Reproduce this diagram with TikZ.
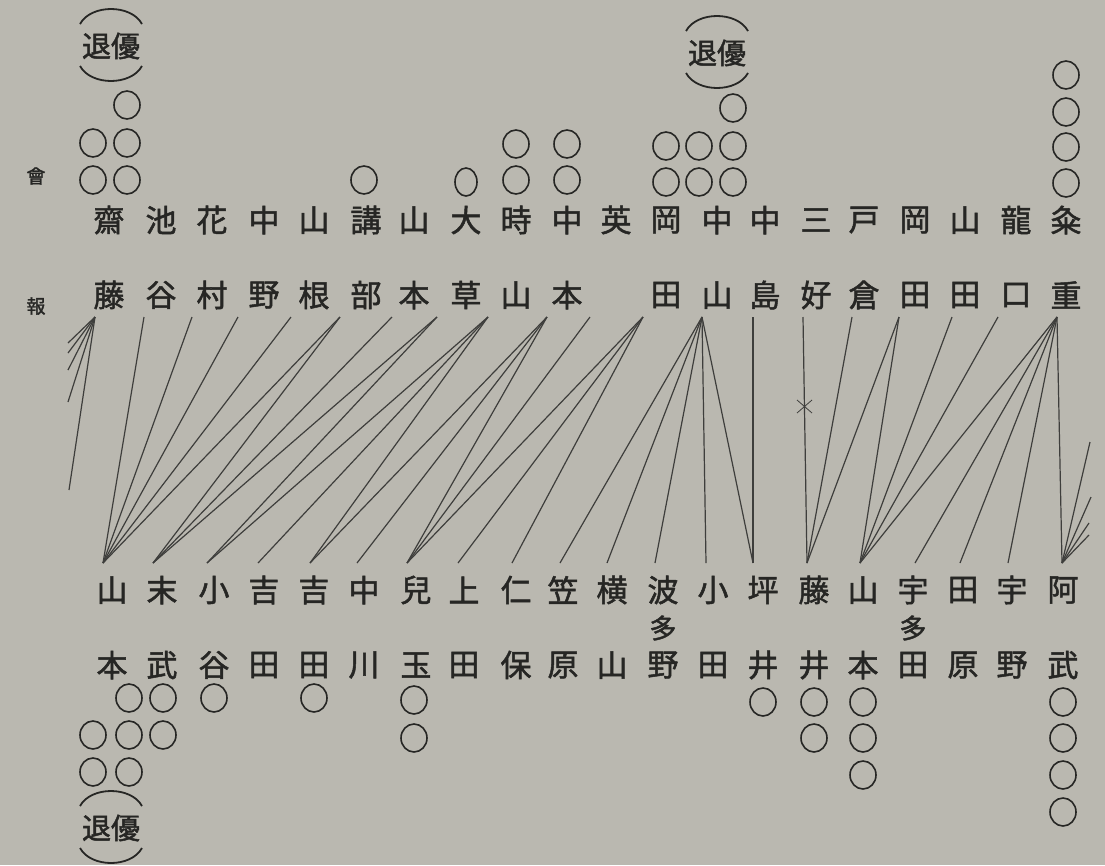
\documentclass[tikz,border=0pt]{standalone}
\usepackage{fontspec}
\newfontfamily\jp[FakeBold=1.6]{Noto Sans CJK JP}
\usetikzlibrary{shapes.geometric,calc}
\definecolor{paper}{RGB}{186,184,176}
\definecolor{ink}{RGB}{38,38,36}
\definecolor{lnc}{RGB}{62,62,60}
\newcommand{\yutaimark}[2]{%
  \node[yt] (#1) at (#2) {退優};
  \draw[arcst] ($(#1.center)+(-31,-22)$) .. controls ($(#1.center)+(-20,-42)$) and ($(#1.center)+(20,-42)$) .. ($(#1.center)+(31,-22)$);
  \draw[arcst] ($(#1.center)+(-31,20)$) .. controls ($(#1.center)+(-20,40)$) and ($(#1.center)+(20,40)$) .. ($(#1.center)+(31,20)$);
}
\begin{document}
\begin{tikzpicture}[x=1pt,y=-1pt,
  nm/.style={font=\jp\fontsize{31}{31}\selectfont, text=ink, inner sep=0pt},
  nmsmall/.style={font=\jp\fontsize{27}{27}\selectfont, text=ink, inner sep=0pt},
  sm/.style={font=\jp\fontsize{19}{19}\selectfont, text=ink, inner sep=0pt},
  yt/.style={font=\jp\fontsize{29}{29}\selectfont, text=ink, inner sep=0pt},
  win/.style={ellipse, draw=ink, line width=1.6pt, minimum width=26pt, minimum height=28pt, inner sep=0pt},
  ln/.style={draw=lnc, line width=1.2pt},
  arcst/.style={draw=ink, line width=1.8pt}]
\clip (0,0) rectangle (1105,865);
\fill[paper] (0,0) rectangle (1105,865);

% side labels
\node[sm] (kai) at (36,176) {會};
\node[sm] (hou) at (36,306) {報};

% top names
\foreach \x/\a/\b [count=\i] in {109/齋/藤,161/池/谷,212/花/村,264/中/野,314/山/根,366/講/部,414/山/本,466/大/草,516/時/山,567/中/本,616/英/{},666/岡/田,717/中/山,765/中/島,816/三/好,864/戸/倉,915/岡/田,965/山/田,1016/龍/口,1066/粂/重}{
  \node[nm] (ta\i) at (\x,220) {\a};
  \node[nm] (tb\i) at (\x,295) {\b};
}

% bottom names
\foreach \x/\a/\b [count=\i] in {112/山/本,162/末/武,214/小/谷,264/吉/田,314/吉/田,364/中/川,416/兒/玉,464/上/田,516/仁/保,563/笠/原,612/横/山,663/波/野,713/小/田,763/坪/井,814/藤/井,863/山/本,913/宇/田,963/田/原,1012/宇/野,1063/阿/武}{
  \node[nm] (ba\i) at (\x,590) {\a};
  \node[nm] (bb\i) at (\x,665) {\b};
}
\node[nmsmall] (bm12) at (663,628) {多};
\node[nmsmall] (bm17) at (913,628) {多};

% connector ends
\foreach \x [count=\i] in {95,144,192,238,291,340,392,437,488,547,590,643,702,753,803,852,899,952,998,1057}
  \coordinate (tt\i) at (\x,317);
\foreach \x [count=\i] in {103,153,207,258,310,357,407,458,512,560,607,655,706,753,807,860,915,960,1008,1062}
  \coordinate (bt\i) at (\x,563);
\coordinate (l1) at (68,343);
\coordinate (l2) at (68,353);
\coordinate (l3) at (68,370);
\coordinate (l4) at (68,402);
\coordinate (l5) at (69,490);
\coordinate (r1) at (1090,442);
\coordinate (r2) at (1091,497);
\coordinate (r3) at (1089,523);
\coordinate (r4) at (1089,535);

% connectors
\foreach \t/\b in {2/1,3/1,4/1,5/1,6/1,6/2,7/2,8/2,8/3,9/3,9/4,9/5,10/5,10/6,10/7,11/7,12/7,12/8,12/9,13/10,13/11,13/12,13/13,13/14,14/14,15/15,16/15,17/15,17/16,18/16,19/16,20/16,20/17,20/18,20/19,20/20}
  \draw[ln] (tt\t) -- (bt\b);
\foreach \e in {l1,l2,l3,l4,l5} \draw[ln] (tt1) -- (\e);
\foreach \e in {r1,r2,r3,r4} \draw[ln] (bt20) -- (\e);

% cross mark on the line
\draw[lnc, line width=0.8pt] (797,400) -- (812,413) (797,413) -- (812,400);

% wins (top)
\foreach \x/\y [count=\i] in {93/180,93/143,127/180,127/143,127/105,364/180,516/180,516/144,567/180,567/144,666/182,666/146,699/182,699/146,733/182,733/146,733/108,1066/183,1066/147,1066/112,1066/75}
  \node[win] (tc\i) at (\x,\y) {};
\node[win, minimum width=22pt] (tc0) at (466,182) {};

% wins (bottom)
\foreach \x/\y [count=\i] in {129/698,129/735,129/772,93/735,93/772,163/698,163/735,214/698,314/698,414/700,414/738,763/702,814/702,814/738,863/702,863/738,863/775,1063/702,1063/738,1063/775,1063/812}
  \node[win] (bc\i) at (\x,\y) {};

% retire-as-winner marks
\yutaimark{U1}{111,46}
\yutaimark{U2}{717,53}
\yutaimark{U3}{111,828}
\end{tikzpicture}
\end{document}
